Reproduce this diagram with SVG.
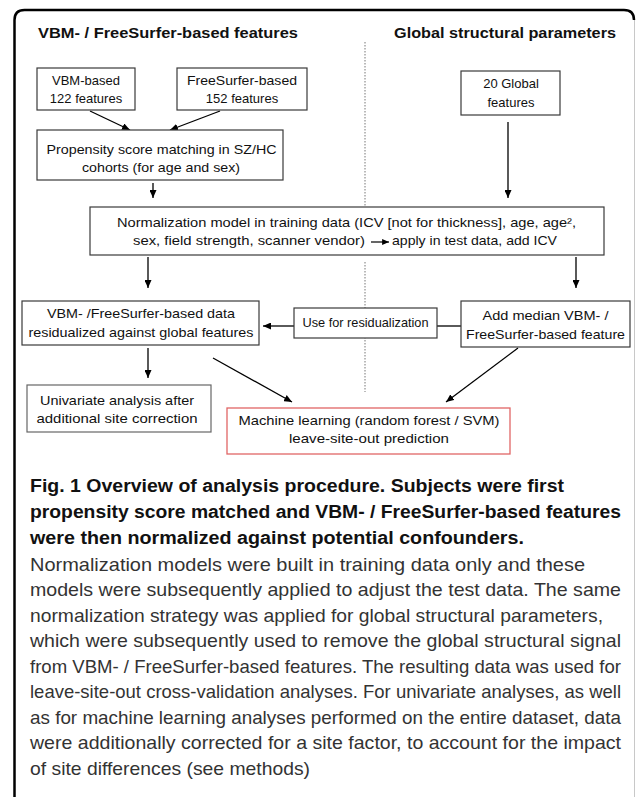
<svg xmlns="http://www.w3.org/2000/svg" width="636" height="797" viewBox="0 0 636 797">
<defs>
<style>
.box{fill:#fff;stroke:#3a3a3a;stroke-width:1.2}
.t{font-family:"Liberation Sans",Arial,sans-serif;font-size:13px;fill:#111;text-anchor:middle}
.h{font-family:"Liberation Sans",Arial,sans-serif;font-size:15px;font-weight:bold;fill:#111}
.cap{font-family:"Liberation Sans",Arial,sans-serif;font-size:18px;font-weight:bold;fill:#111}
.body{font-family:"Liberation Sans",Arial,sans-serif;font-size:19px;fill:#333}
.c{stroke:#000;stroke-width:1.3;fill:none;marker-end:url(#ah)}
</style>
<marker id="ah" viewBox="0 0 8 7" refX="8" refY="3.5" markerWidth="8" markerHeight="7" markerUnits="userSpaceOnUse" orient="auto"><path d="M0,0 L8,3.5 L0,7 z" fill="#000"/></marker>
<marker id="ah2" viewBox="0 0 8 7" refX="8" refY="3.5" markerWidth="7" markerHeight="6" markerUnits="userSpaceOnUse" orient="auto"><path d="M0,0 L8,3.5 L0,7 z" fill="#000"/></marker>
</defs>
<rect width="636" height="797" fill="#fff"/>
<g id="frame">
<path d="M14.5,797 L14.5,20 Q14.5,10 24.5,10 L624,10 Q634,10 634,20" fill="none" stroke="#000" stroke-width="2.5"/>
<line x1="634.5" y1="20" x2="634.5" y2="797" stroke="#c8c8c8" stroke-width="1"/>
</g>
<g id="divider">
<path d="M365,42 L365,207 M365,262 L365,392" stroke="#777" stroke-width="1" stroke-dasharray="1.5 1.5" fill="none"/>
</g>
<g id="headings">
<text class="h" x="38" y="38" textLength="260" lengthAdjust="spacingAndGlyphs">VBM- / FreeSurfer-based features</text>
<text class="h" x="394" y="38" textLength="222" lengthAdjust="spacingAndGlyphs">Global structural parameters</text>
</g>
<g id="connectors">
<path class="c" d="M90,111 L130,130"/>
<path class="c" d="M220,111 L170,130"/>
<path class="c" d="M153,183 L153,198"/>
<path class="c" d="M508,122 L508,198"/>
<path class="c" d="M148,257 L148,288"/>
<path class="c" d="M576,257 L576,288"/>
<path class="c" d="M294,326 L263,326"/>
<path d="M461,326 L437,326" stroke="#000" stroke-width="1.3" fill="none"/>
<path class="c" d="M148,348 L148,378"/>
<path class="c" d="M213,358 L292,402"/>
<path class="c" d="M518,348 L446,402"/>
</g>
<g id="vbm">
<rect class="box" x="37" y="68" width="98" height="42"/>
<text class="t" x="86" y="85">VBM-based</text>
<text class="t" x="86" y="103">122 features</text>
</g>
<g id="freesurfer">
<rect class="box" x="177" y="68" width="130" height="42"/>
<text class="t" x="242" y="85" textLength="110" lengthAdjust="spacingAndGlyphs">FreeSurfer-based</text>
<text class="t" x="242" y="103">152 features</text>
</g>
<g id="propensity">
<rect class="box" x="37" y="130" width="246" height="50"/>
<text class="t" x="161.5" y="154" textLength="230" lengthAdjust="spacingAndGlyphs">Propensity score matching in SZ/HC</text>
<text class="t" x="161" y="172" textLength="158" lengthAdjust="spacingAndGlyphs">cohorts (for age and sex)</text>
</g>
<g id="global">
<rect class="box" x="461" y="71" width="99" height="44"/>
<text class="t" x="511" y="88">20 Global</text>
<text class="t" x="511" y="107">features</text>
</g>
<g id="normalization">
<rect class="box" x="90" y="207" width="514" height="48"/>
<text class="t" x="346.5" y="227" textLength="459" lengthAdjust="spacingAndGlyphs">Normalization model in training data (ICV [not for thickness], age, age²,</text>
<text class="t" x="365" y="245" style="text-anchor:end" textLength="232" lengthAdjust="spacingAndGlyphs">sex, field strength, scanner vendor)</text>
<path d="M371,242 L389,242" stroke="#000" stroke-width="1.2" fill="none" marker-end="url(#ah2)"/>
<text class="t" x="392" y="245" style="text-anchor:start" textLength="165" lengthAdjust="spacingAndGlyphs">apply in test data, add ICV</text>
</g>
<g id="residualized">
<rect class="box" x="22" y="301" width="237" height="44"/>
<text class="t" x="141" y="318" textLength="188" lengthAdjust="spacingAndGlyphs">VBM- /FreeSurfer-based data</text>
<text class="t" x="141" y="337" textLength="225" lengthAdjust="spacingAndGlyphs">residualized against global features</text>
</g>
<g id="use">
<rect class="box" x="294" y="308" width="143" height="30"/>
<text class="t" x="365.5" y="327" textLength="126" lengthAdjust="spacingAndGlyphs">Use for residualization</text>
</g>
<g id="median">
<rect class="box" x="461" y="301" width="169" height="46"/>
<text class="t" x="545.5" y="320" textLength="126" lengthAdjust="spacingAndGlyphs">Add median VBM- /</text>
<text class="t" x="545.5" y="339" textLength="159" lengthAdjust="spacingAndGlyphs">FreeSurfer-based feature</text>
</g>
<g id="univariate">
<rect x="27" y="385" width="184" height="47" fill="#fff" stroke="#666" stroke-width="1.2"/>
<text class="t" x="117" y="405" textLength="154" lengthAdjust="spacingAndGlyphs">Univariate analysis after</text>
<text class="t" x="117" y="423" textLength="161" lengthAdjust="spacingAndGlyphs">additional site correction</text>
</g>
<g id="ml">
<rect x="227" y="408" width="283" height="46" fill="#fff" stroke="#e06666" stroke-width="1.3"/>
<text class="t" x="369" y="425" textLength="261" lengthAdjust="spacingAndGlyphs">Machine learning (random forest / SVM)</text>
<text class="t" x="369" y="443" textLength="160" lengthAdjust="spacingAndGlyphs">leave-site-out prediction</text>
</g>
<g id="caption">
<text class="cap" x="30" y="492" textLength="534" lengthAdjust="spacingAndGlyphs">Fig. 1 Overview of analysis procedure. Subjects were first</text>
<text class="cap" x="30" y="518" textLength="591" lengthAdjust="spacingAndGlyphs">propensity score matched and VBM- / FreeSurfer-based features</text>
<text class="cap" x="30" y="544" textLength="494" lengthAdjust="spacingAndGlyphs">were then normalized against potential confounders.</text>
<text class="body" x="30" y="570.5" textLength="555" lengthAdjust="spacingAndGlyphs">Normalization models were built in training data only and these</text>
<text class="body" x="30" y="596" textLength="591" lengthAdjust="spacingAndGlyphs">models were subsequently applied to adjust the test data. The same</text>
<text class="body" x="30" y="621.5" textLength="573" lengthAdjust="spacingAndGlyphs">normalization strategy was applied for global structural parameters,</text>
<text class="body" x="30" y="647" textLength="591" lengthAdjust="spacingAndGlyphs">which were subsequently used to remove the global structural signal</text>
<text class="body" x="30" y="672.5" textLength="591" lengthAdjust="spacingAndGlyphs">from VBM- / FreeSurfer-based features. The resulting data was used for</text>
<text class="body" x="30" y="698" textLength="591" lengthAdjust="spacingAndGlyphs">leave-site-out cross-validation analyses. For univariate analyses, as well</text>
<text class="body" x="30" y="723.5" textLength="591" lengthAdjust="spacingAndGlyphs">as for machine learning analyses performed on the entire dataset, data</text>
<text class="body" x="30" y="749" textLength="591" lengthAdjust="spacingAndGlyphs">were additionally corrected for a site factor, to account for the impact</text>
<text class="body" x="30" y="775" textLength="280" lengthAdjust="spacingAndGlyphs">of site differences (see methods)</text>
</g>
</svg>
